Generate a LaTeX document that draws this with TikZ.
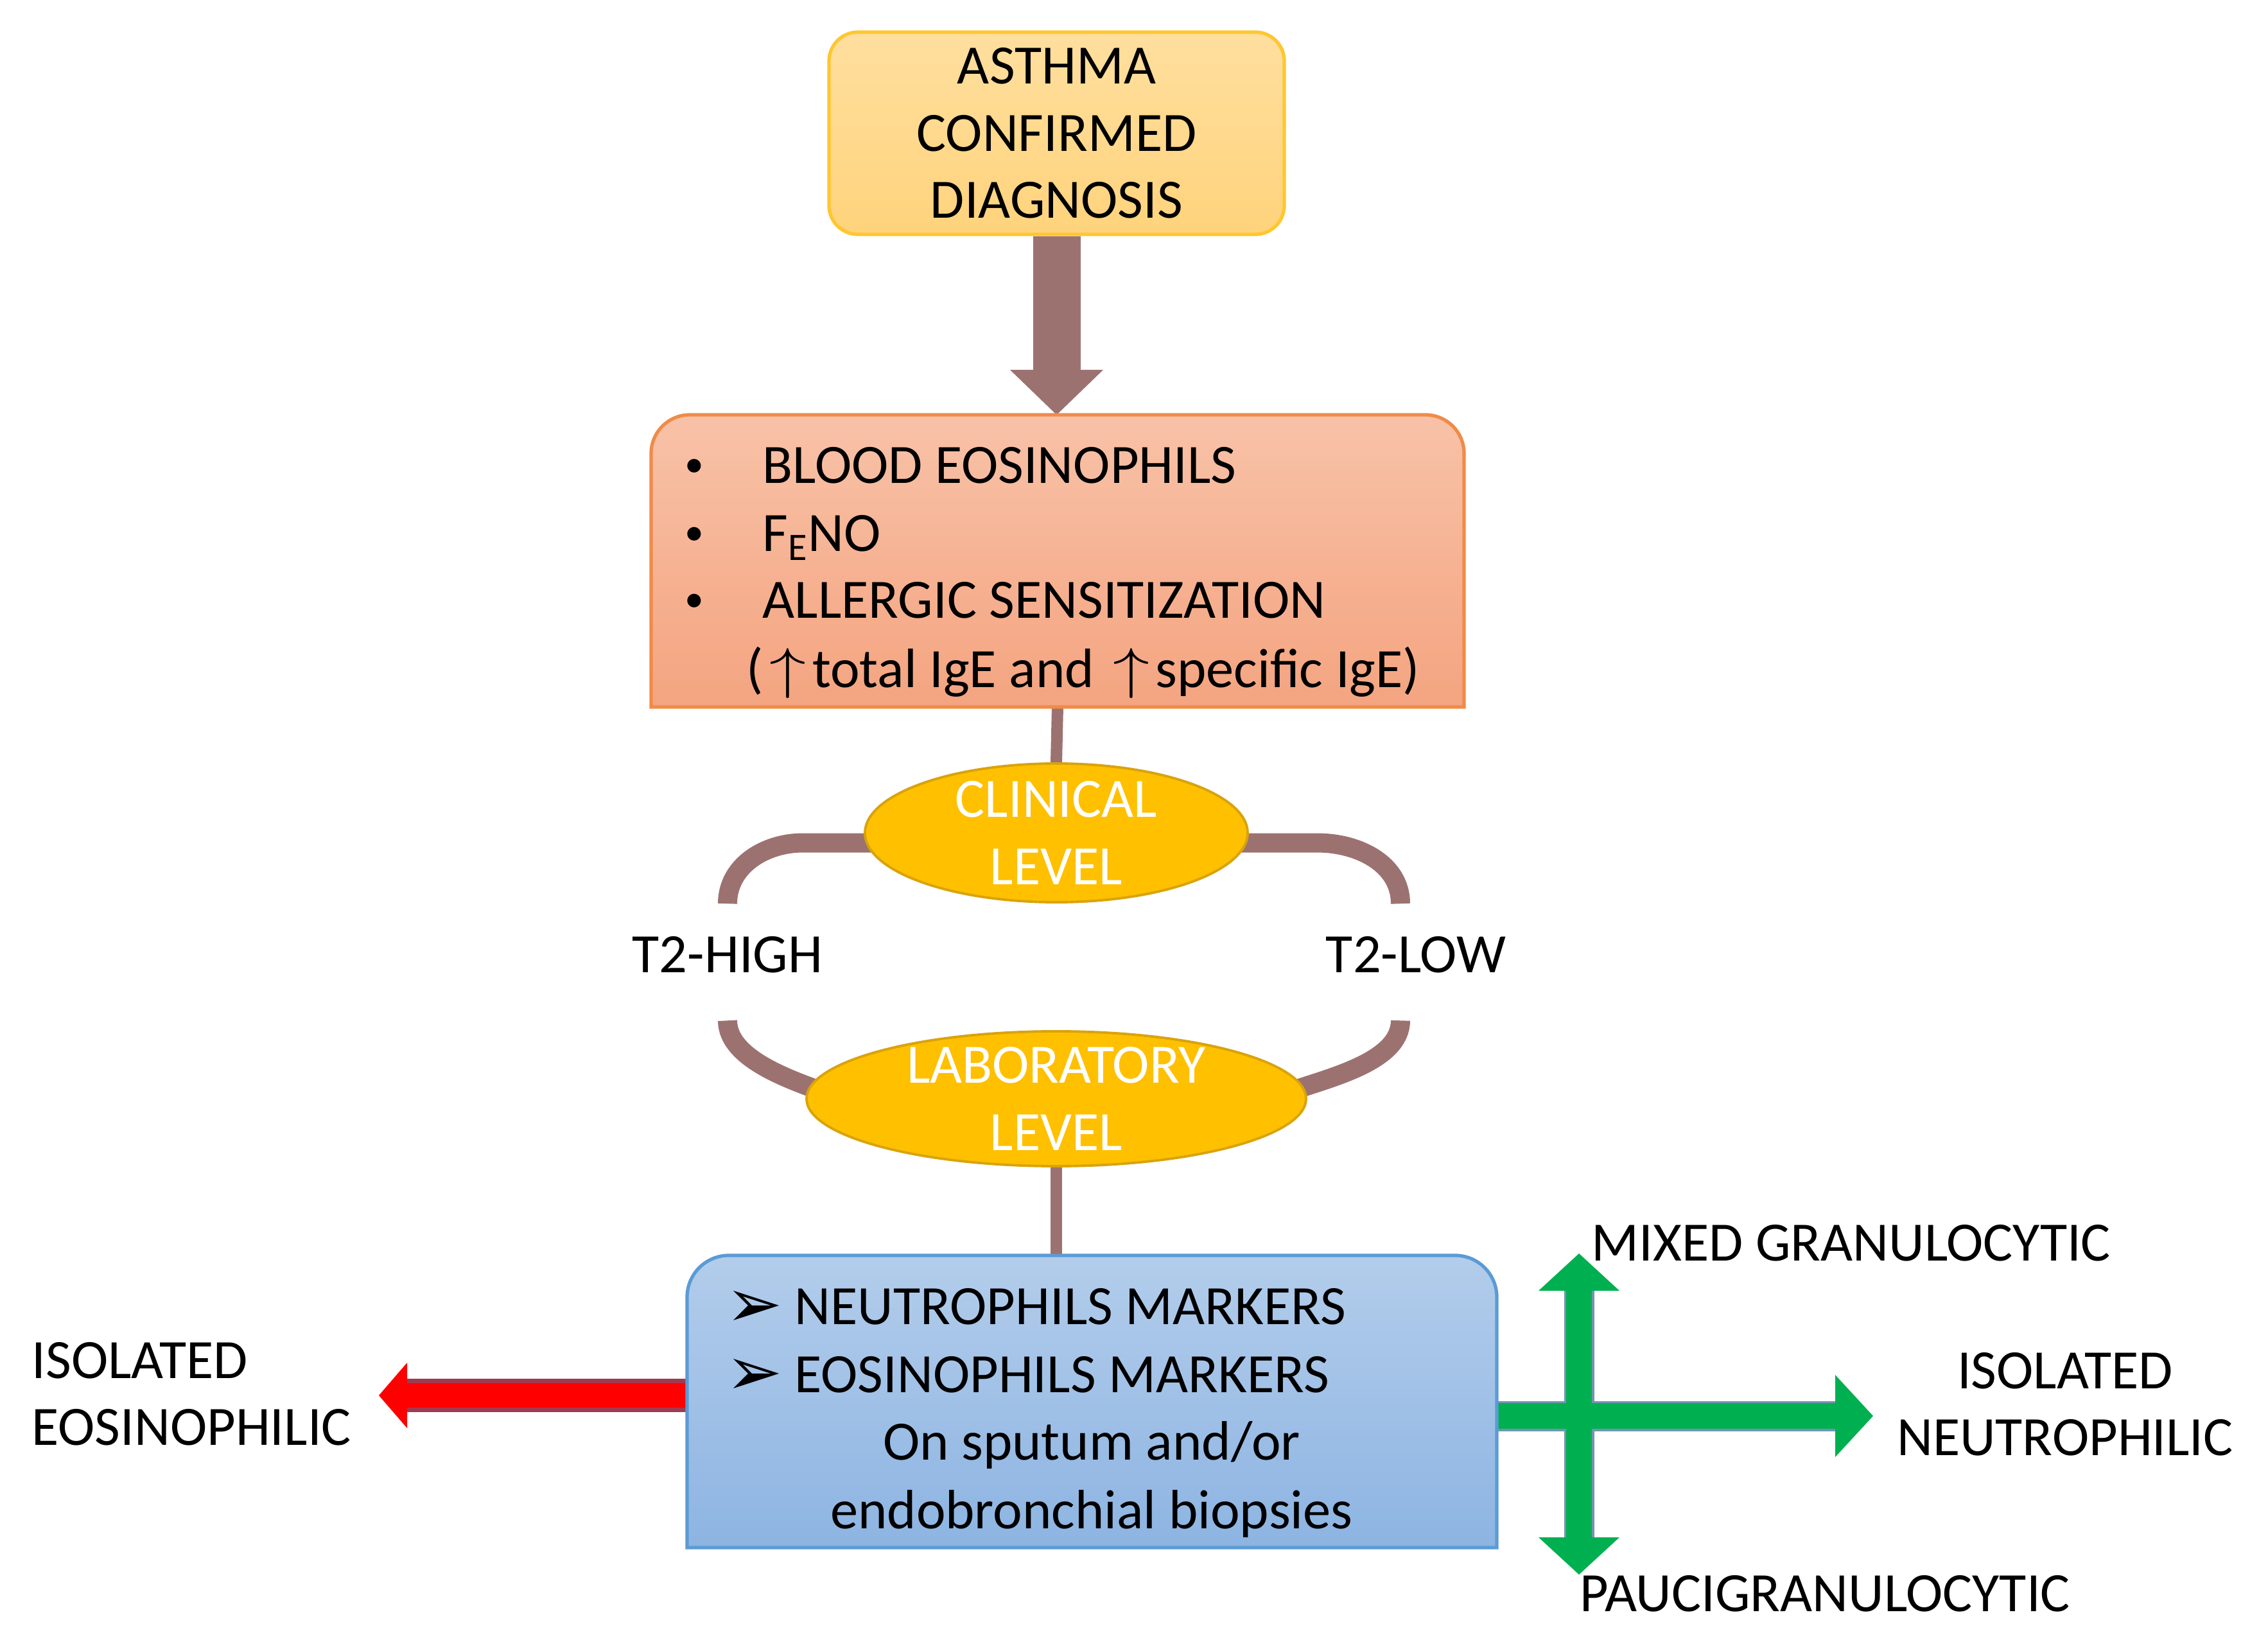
\documentclass[tikz,border=0pt]{standalone}
\usepackage{fontspec}
\usepackage{graphicx}
\setmainfont{Carlito}
\newfontfamily\dejavu{DejaVu Sans}
\usetikzlibrary{arrows.meta,shapes.geometric,backgrounds}

\definecolor{asthmatop}{HTML}{FFDF9F}
\definecolor{asthmabot}{HTML}{FFD37C}
\definecolor{asthmaline}{HTML}{FFC62F}
\definecolor{biotop}{HTML}{F8C2A8}
\definecolor{biobot}{HTML}{F4A480}
\definecolor{bioline}{HTML}{F08B48}
\definecolor{celltop}{HTML}{B3CDEB}
\definecolor{cellbot}{HTML}{8DB4E2}
\definecolor{cellline}{HTML}{5B9BD5}
\definecolor{levelfill}{HTML}{FFC000}
\definecolor{levelline}{HTML}{D9A30C}
\definecolor{brownc}{HTML}{9C7271}
\definecolor{greenc}{HTML}{00B050}
\definecolor{greenedge}{HTML}{7394B2}
\definecolor{rededge}{HTML}{A03A50}

\newcommand{\smallbullet}{\makebox[1.21cm][l]{\raisebox{0.12em}{\fontsize{17pt}{17pt}\selectfont\textbullet}}}
\newcommand{\arrowbullet}{\makebox[1.07cm][l]{\raisebox{-0.05em}{\dejavu\fontsize{30pt}{30pt}\selectfont ➢}}}
\newcommand{\uparr}{\makebox[0.88em][c]{\scalebox{1.3}[1.0]{$\uparrow$}}}

\begin{document}
\begin{tikzpicture}[%
        font=\fontsize{24.6pt}{29.7pt}\selectfont,
        boxarea/.style={inner sep=0pt, outer sep=0pt},
        linetext/.style={anchor=base west, inner sep=0pt},
        plaintext/.style={inner sep=0pt},
        levelnode/.style={ellipse, fill=levelfill, draw=levelline, line width=1.1pt, inner sep=0pt},
        leveltext/.style={align=center, text=white, inner sep=0pt},
        brownline/.style={draw=brownc, line width=0.3cm},
        brownthin/.style={draw=brownc, line width=0.18cm},
        fatarrow/.style={draw=brownc, line width=0.74cm,
            -{Triangle[length=0.7cm, width=1.45cm, line width=0pt]}},
        greenarrow/.style={draw=greenc, line width=0.40cm},
        greenrim/.style={draw=greenedge, line width=0.47cm}
    ]
    \useasboundingbox (0,0) rectangle (35.32,25.56);

    % top box
    \node [rounded corners=0.45cm, draw=asthmaline, line width=1.5pt,
           top color=asthmatop, bottom color=asthmabot,
           minimum width=7.09cm, minimum height=3.15cm, align=center, inner sep=0pt]
          (asthma) at (16.455,23.485) {ASTHMA\\CONFIRMED\\DIAGNOSIS};

    % biomarkers box
    \node [boxarea, minimum width=12.66cm, minimum height=4.55cm] (biobox) at (16.47,16.825) {};
    \path [draw=bioline, line width=1.5pt, top color=biotop, bottom color=biobot]
          (biobox.south west) -- ([yshift=-0.6cm]biobox.north west)
          arc[start angle=180, end angle=90, radius=0.6cm]
          -- ([xshift=-0.6cm]biobox.north east)
          arc[start angle=90, end angle=0, radius=0.6cm]
          -- (biobox.south east) -- cycle;
    \node [linetext] (blood) at (10.66,18.03) {\smallbullet BLOOD EOSINOPHILS};
    \node [linetext] (feno) at (10.66,16.97) {\smallbullet F\textsubscript{E}NO};
    \node [linetext] (allergy) at (10.66,15.93) {\smallbullet ALLERGIC SENSITIZATION};
    \node [linetext] (ige) at (11.62,14.85) {(\uparr total IgE and \uparr specific IgE)};

    % levels
    \node [levelnode, minimum width=5.96cm, minimum height=2.16cm] (clinical) at (16.45,12.59) {};
    \node [leveltext] (clinicaltext) at (clinical) {CLINICAL\\LEVEL};
    \node [levelnode, minimum width=7.78cm, minimum height=2.10cm] (lab) at (16.45,8.45) {};
    \node [leveltext] (labtext) at (lab) {LABORATORY\\LEVEL};

    \node [plaintext, anchor=base] (t2high) at (11.33,10.41) {T2-HIGH};
    \node [plaintext, anchor=base] (t2low) at (22.05,10.41) {T2-LOW};

    % cells box
    \node [boxarea, minimum width=12.61cm, minimum height=4.55cm] (cellbox) at (17.005,3.735) {};
    \path [draw=cellline, line width=1.5pt, top color=celltop, bottom color=cellbot]
          (cellbox.south west) -- ([yshift=-0.65cm]cellbox.north west)
          arc[start angle=180, end angle=90, radius=0.65cm]
          -- ([xshift=-0.65cm]cellbox.north east)
          arc[start angle=90, end angle=0, radius=0.65cm]
          -- (cellbox.south east) -- cycle;
    \node [linetext] (neumark) at (11.30,4.94) {\arrowbullet NEUTROPHILS MARKERS};
    \node [linetext] (eosmark) at (11.30,3.88) {\arrowbullet EOSINOPHILS MARKERS};
    \node [plaintext, anchor=base] (sputum) at (17.0,2.83) {On sputum and/or};
    \node [plaintext, anchor=base] (biopsy) at (17.0,1.76) {endobronchial biopsies};

    % phenotypes
    \node [plaintext, align=left, anchor=west] (isoeos) at (0.49,3.85) {ISOLATED\\EOSINOPHILIC};
    \node [plaintext, align=center] (isoneu) at (32.16,3.69) {ISOLATED\\NEUTROPHILIC};
    \node [linetext] (mixed) at (24.78,5.93) {MIXED GRANULOCYTIC};
    \node [linetext] (pauci) at (24.60,0.47) {PAUCIGRANULOCYTIC};

    \coordinate (eostip) at (5.90,3.83);
    \coordinate (neutip) at (29.17,3.51);
    \coordinate (mixtip) at (24.59,6.04);
    \coordinate (pautip) at (24.59,1.04);

    \begin{scope}[on background layer]
        \fill [white] (0,0) rectangle (35.32,25.56);
        \draw [fatarrow] (asthma.south) -- (asthma.south |- biobox.north);
        \draw [brownthin] (biobox.south) -- (clinical.north);
        \draw [brownline] ([xshift=0.3cm]clinical.183) -- ++(-1.28,0)
              to[out=180, in=90] ([yshift=0.51cm]t2high.north);
        \draw [brownline] ([xshift=-0.3cm]clinical.-3) -- ++(1.4,0)
              to[out=0, in=90] ([xshift=-0.24cm, yshift=0.51cm]t2low.north);
        \draw [brownline] ([yshift=-0.73cm]t2high.south)
              to[out=-90, in=160, looseness=0.8] ([xshift=0.3cm, yshift=0.1cm]lab.west);
        \draw [brownline] ([xshift=-0.24cm, yshift=-0.73cm]t2low.south)
              to[out=-90, in=20, looseness=0.8] ([xshift=-0.3cm, yshift=0.1cm]lab.east);
        \draw [brownthin] (lab.south) -- (lab.south |- cellbox.north);

        % red arrow
        \draw [draw=rededge, line width=0.52cm] (cellbox.west |- eostip) -- ([xshift=0.44cm]eostip);
        \draw [draw=red, line width=0.38cm,
               -{Triangle[length=0.44cm, width=1.02cm, line width=0pt]}]
              (cellbox.west |- eostip) -- (eostip);

        % green arrows
        \draw [greenrim] ([yshift=-0.58cm]mixtip) -- ([yshift=0.58cm]pautip);
        \draw [greenrim] (cellbox.east |- neutip) -- ([xshift=-0.59cm]neutip);
        \draw [greenarrow,
               {Triangle[length=0.58cm, width=1.26cm, line width=0pt]}-{Triangle[length=0.58cm, width=1.26cm, line width=0pt]}]
              (mixtip) -- (pautip);
        \draw [greenarrow, -{Triangle[length=0.59cm, width=1.28cm, line width=0pt]}]
              (cellbox.east |- neutip) -- (neutip);
    \end{scope}
\end{tikzpicture}
\end{document}
